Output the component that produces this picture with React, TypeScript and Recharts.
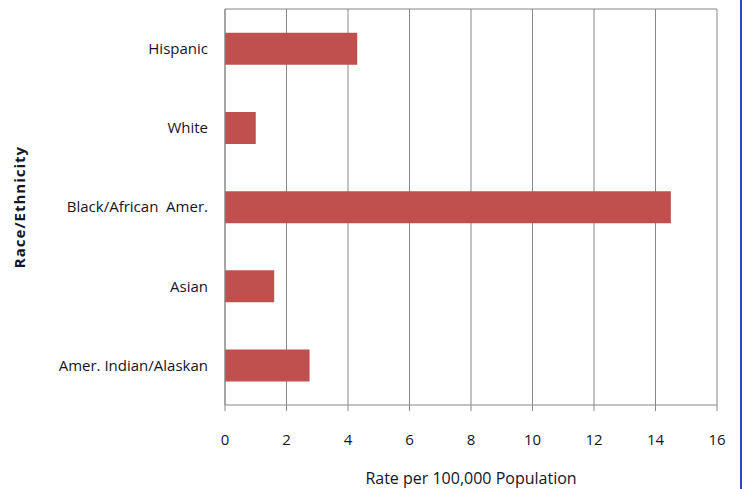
import React from 'react';
import { BarChart, Bar, XAxis, YAxis, CartesianGrid } from 'recharts';

const categories = ['Hispanic', 'White', 'Black/African\u00a0\u00a0Amer.', 'Asian', 'Amer. Indian/Alaskan'];
const rates = [4.3, 1.0, 14.5, 1.6, 2.75];
const xTicks = [0, 2, 4, 6, 8, 10, 12, 14, 16];
const boundaryTicks = [0, 1, 2, 3, 4, 5];

const data = categories.map((c, i) => ({ name: c, rate: rates[i] }));

const GRID = '#878787';
const TEXT = '#14142a';
const FONT = '"Open Sans", Lato, sans-serif';

export default function App() {
  return (
    <div style={{ position: 'absolute', left: 0, top: 0, width: 743, height: 489, background: '#fff', fontFamily: FONT }}>
      <BarChart
        width={743}
        height={489}
        data={data}
        layout="vertical"
        margin={{ top: 8, right: 26, left: 0, bottom: 0 }}
        barCategoryGap="30%"
      >
        <CartesianGrid horizontal={false} vertical={true} stroke={GRID} strokeWidth={1} xAxisId="bottom" yAxisId="b_cat" />
        <XAxis
          xAxisId="top"
          orientation="top"
          type="number"
          domain={[0, 16]}
          ticks={xTicks}
          height={1}
          tick={false}
          tickLine={false}
          axisLine={{ stroke: GRID }}
        />
        <XAxis
          xAxisId="bottom"
          type="number"
          domain={[0, 16]}
          ticks={xTicks}
          height={84}
          tickSize={6}
          tickMargin={23}
          axisLine={{ stroke: GRID }}
          tickLine={{ stroke: GRID }}
          tick={{ fill: TEXT, fontSize: 15, fontFamily: FONT }}
          label={{ value: 'Rate per 100,000 Population', position: 'insideBottom', offset: 5, fill: TEXT, fontSize: 16, fontFamily: FONT }}
        />
        <YAxis
          yAxisId="a_num"
          type="number"
          domain={[0, 5]}
          ticks={boundaryTicks}
          width={1}
          tick={false}
          tickSize={5}
          tickLine={{ stroke: GRID }}
          axisLine={{ stroke: GRID }}
          allowDataOverflow
        />
        <YAxis
          yAxisId="b_cat"
          type="category"
          dataKey="name"
          width={224}
          tickLine={false}
          axisLine={false}
          tickSize={0}
          tickMargin={16}
          interval={0}
          tick={{ fill: TEXT, fontSize: 15, fontFamily: FONT }}
          label={{ value: 'Race/Ethnicity', angle: -90, position: 'insideLeft', offset: 20, fill: TEXT, fontSize: 15, fontWeight: 'bold', fontFamily: FONT, letterSpacing: 1, style: { textAnchor: 'middle' } }}
        />
        <Bar dataKey="rate" xAxisId="bottom" yAxisId="b_cat" fill="#C0504D" isAnimationActive={false} />
      </BarChart>
      <div style={{ position: 'absolute', left: 740, top: 0, width: 2, height: 489, background: '#2A46D0' }} />
    </div>
  );
}
